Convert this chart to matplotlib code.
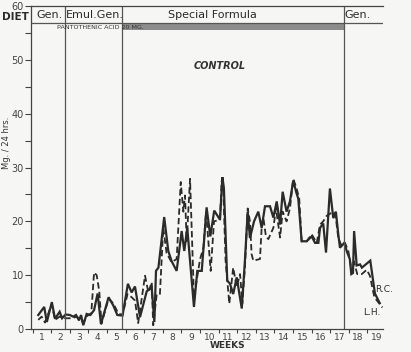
import matplotlib
matplotlib.use("Agg")
import matplotlib.pyplot as plt

# R.C. (solid) and L.H. (dashed), x in weeks, y in mg / 24 hrs
rc_x = [0.30, 0.62, 0.76, 1.03, 1.20, 1.45, 1.58, 1.77, 2.00, 2.18, 2.33, 2.49, 2.60, 2.72,
        2.90, 3.10, 3.30, 3.49, 3.67, 4.08, 4.33, 4.55, 4.83, 5.12, 5.32, 5.50, 5.77, 6.13,
        6.40, 6.54, 6.63, 6.76, 7.07, 7.29, 7.47, 7.74, 8.01, 8.15, 8.31, 8.67, 8.85, 9.09,
        9.35, 9.55, 9.76, 10.07, 10.20, 10.28, 10.46, 10.61, 10.78, 10.97, 11.24, 11.41,
        11.56, 11.68, 11.90, 12.13, 12.31, 12.49, 12.76, 12.94, 13.12, 13.30, 13.44, 13.65,
        13.83, 14.01, 14.16, 14.28, 14.46, 14.73, 15.00, 15.18, 15.36, 15.45, 15.62, 15.77,
        15.98, 16.16, 16.30, 16.43, 16.52, 16.75, 16.90, 17.05, 17.13, 17.22, 17.28, 17.42,
        17.60, 17.70, 18.15, 18.40, 18.66]
rc_y = [2.6, 4.1, 1.3, 5.0, 1.9, 3.2, 2.0, 2.7, 2.6, 2.3, 2.6, 1.6, 2.6, 0.7,
        2.8, 2.6, 3.5, 6.6, 0.9, 5.9, 4.4, 2.6, 2.5, 8.4, 6.8, 7.9, 2.2, 7.0,
        7.7, 1.3, 10.8, 11.4, 20.8, 14.5, 12.6, 10.8, 18.2, 14.5, 18.8, 4.1, 10.8, 10.8,
        22.6, 17.2, 22.0, 20.3, 28.2, 26.2, 9.0, 8.4, 6.5, 9.6, 3.8, 12.7,
        21.8, 16.9, 20.0, 21.8, 18.8, 22.8, 22.8, 20.7, 23.7, 19.4, 25.5, 21.8,
        23.7, 27.6, 25.5, 24.2, 16.3, 16.3, 17.2, 16.0, 16.0, 18.8, 19.6, 14.2,
        26.1, 20.6, 21.8, 17.6, 15.1, 16.0, 14.3, 13.0, 10.2, 10.4, 18.2, 11.8,
        12.0, 11.4, 12.7, 6.6, 4.8]

lh_x = [0.30, 0.48, 0.66, 1.02, 1.20, 1.45, 1.74, 2.10, 2.38, 2.72, 2.98, 3.15, 3.30, 3.44,
        3.58, 3.70, 4.08, 4.33, 4.60, 4.83, 5.10, 5.32, 5.50, 5.67, 6.04, 6.22, 6.40, 6.48,
        6.67, 6.84, 7.02, 7.20, 7.47, 7.74, 7.96, 8.10, 8.19, 8.28, 8.46, 8.67, 9.00, 9.18,
        9.32, 9.57, 9.75, 10.07, 10.16, 10.25, 10.37, 10.57, 10.78, 10.97, 11.15, 11.27,
        11.41, 11.56, 11.68, 11.77, 11.86, 12.22, 12.31, 12.40, 12.54, 12.67, 12.94, 13.08,
        13.30, 13.44, 13.65, 13.83, 14.01, 14.19, 14.33, 14.46, 14.73, 15.00, 15.27, 15.45,
        15.62, 15.80, 16.16, 16.30, 16.43, 16.61, 16.79, 16.97, 17.15, 17.27, 17.45, 17.69,
        17.96, 18.13, 18.37, 18.80]
lh_y = [1.7, 2.3, 1.2, 4.6, 1.7, 2.3, 2.0, 2.0, 2.3, 1.2, 2.6, 2.9, 10.5, 10.0,
        7.0, 1.0, 5.6, 4.8, 2.9, 2.6, 6.5, 5.9, 5.3, 1.1, 9.9, 6.8, 8.7, 0.7,
        6.5, 6.5, 18.8, 14.1, 12.4, 13.0, 27.3, 21.8, 24.8, 16.3, 27.9, 5.9, 13.0, 15.1,
        21.8, 10.8, 20.0, 20.3, 27.5, 25.7, 12.7, 4.7, 11.4, 7.8, 10.2, 4.7,
        11.4, 22.4, 20.0, 13.9, 12.7, 13.0, 18.8, 20.7, 17.2, 16.7, 18.8, 22.4,
        17.0, 21.8, 20.0, 22.4, 27.9, 26.1, 24.2, 16.3, 16.3, 17.6, 16.0, 19.4,
        20.0, 21.0, 21.8, 20.6, 16.9, 15.4, 16.0, 14.5, 10.8, 12.6, 10.2, 10.2,
        11.0, 9.9, 5.9, 4.0]

# diet periods (week boundaries) and header labels
diet_bounds = [1.75, 4.78, 16.75]
diet_labels = ["Gen.", "Emul.Gen.", "Special Formula", "Gen."]
diet_label_x = [0.88, 3.35, 9.64, 17.44]
panto_span = (4.78, 16.75)
weeks = list(range(1, 20))

ink = "#2b2b2b"
bg = "#f6f6f4"

fig = plt.figure(figsize=(4.11, 3.52), dpi=100, facecolor=bg)
ax = fig.add_axes([0.075, 0.0653, 0.8576, 0.9176], facecolor=bg)

ax.plot(rc_x, rc_y, color=ink, lw=1.6, solid_joinstyle="miter")
ax.plot(lh_x, lh_y, color=ink, lw=1.3, dashes=(3.5, 1.8))

ax.set_xlim(-0.1, 18.85)
ax.set_ylim(0, 60)

for xb in diet_bounds:
    ax.axvline(xb, color="#555555", lw=0.9)
ax.plot([-0.1, 18.85], [56.8, 56.8], color="#555555", lw=0.9)

# pantothenic acid bar
ax.fill_between(panto_span, 55.6, 56.8, color="#7a7a7a", alpha=0.85, lw=0)
ax.text(1.31, 56.1, "PANTOTHENIC ACID 20 MG.", fontsize=4.6, color="#333333",
        va="center", ha="left")

ax.text(-0.92, 58.0, "DIET", fontsize=7.5, fontweight="bold", color=ink,
        ha="center", va="center", clip_on=False)
for lab, xl in zip(diet_labels, diet_label_x):
    ax.text(xl, 58.3, lab, fontsize=8, color=ink, ha="center", va="center")

ax.text(10.07, 48.9, "CONTROL", fontsize=7, fontweight="bold", style="italic",
        color="#333333", ha="center", va="center")
ax.text(18.9, 7.3, "R.C.", fontsize=6.5, color=ink, ha="center", va="center")
ax.text(18.25, 3.1, "L.H.", fontsize=6.5, color=ink, ha="center", va="center")

ax.spines["right"].set_visible(False)
for side in ["left", "bottom", "top"]:
    ax.spines[side].set_color("#444444")
    ax.spines[side].set_linewidth(0.9)

ax.set_yticks(range(0, 61, 10))
ax.set_yticks(range(5, 60, 10), minor=True)
ax.tick_params(axis="y", which="major", length=4, width=0.8, labelsize=7,
               colors="#444444", pad=1)
ax.tick_params(axis="y", which="minor", length=4, width=0.8, colors="#444444")

ax.set_xticks(range(0, 19))
ax.set_xticklabels([])
ax.set_xticks([w - 0.5 for w in weeks], minor=True)
ax.set_xticklabels([str(w) for w in weeks], minor=True)
ax.tick_params(axis="x", which="major", length=3, width=0.8, colors="#444444")
ax.tick_params(axis="x", which="minor", length=0, labelsize=6.5, pad=3,
               colors="#444444")

ax.text(10.5, -3.1, "WEEKS", fontsize=6.5, fontweight="bold", color="#333333",
        ha="center", va="center", clip_on=False)
fig.text(0.016, 0.594, "Mg. / 24 hrs.", fontsize=6, color="#333333",
         rotation=90, ha="center", va="center")

fig.savefig("out.png", dpi=100, facecolor=bg)
